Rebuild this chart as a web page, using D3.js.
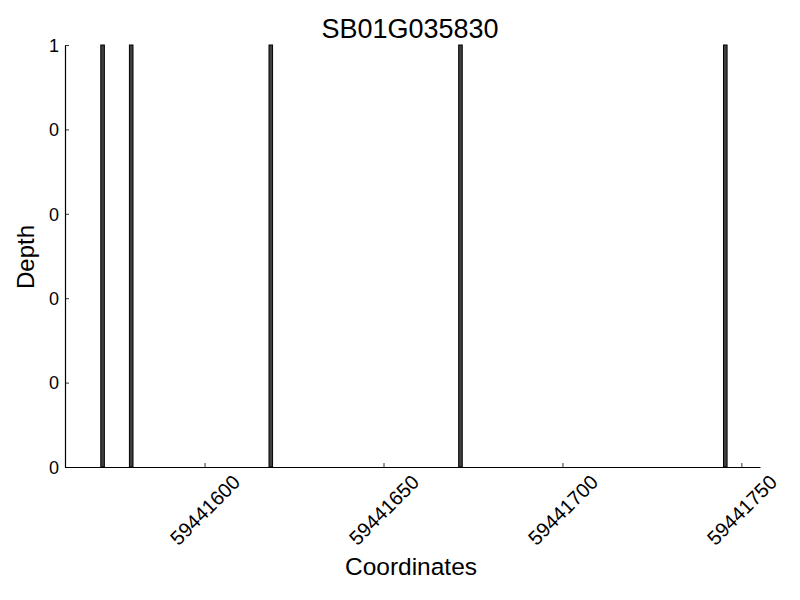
<!DOCTYPE html>
<html>
<head>
<meta charset="utf-8">
<script src="https://cdn.jsdelivr.net/npm/d3@7"></script>
<style>
  body { margin: 0; background: #fff; }
  text { font-family: "Liberation Sans", Arial, sans-serif; fill: #000; }
</style>
</head>
<body>
<svg id="chart" width="800" height="600"></svg>
<script>
const title = "SB01G035830";
const positions = [59441571, 59441579, 59441618, 59441671, 59441745];
const depths = [1, 1, 1, 1, 1];
const xTicks = [59441600, 59441650, 59441700, 59441750];
const yTicks = [0, 0.2, 0.4, 0.6, 0.8, 1];
const xDomain = [59441561, 59441755.2];
const yDomain = [0, 1];

const svg = d3.select("#chart");
const mLeft = 65, mRight = 760, mTop = 45, mBottom = 467;

const x = d3.scaleLinear().domain(xDomain).range([mLeft, mRight]);
const y = d3.scaleLinear().domain(yDomain).range([mBottom, mTop]);

// bars
svg.append("g").selectAll("rect")
  .data(positions.map((p, i) => ({p, d: depths[i]})))
  .join("rect")
  .attr("x", d => x(d.p))
  .attr("width", d => x(d.p + 1) - x(d.p))
  .attr("y", d => y(d.d))
  .attr("height", d => y(0) - y(d.d))
  .attr("fill", "#404040")
  .attr("stroke", "#000")
  .attr("stroke-width", 1);

// x axis
const xAxis = d3.axisBottom(x).tickValues(xTicks).tickSizeInner(-4).tickSizeOuter(0).tickFormat(d3.format("d"));
const gx = svg.append("g").attr("transform", `translate(0,${mBottom})`).call(xAxis);
gx.select(".domain").attr("stroke", "#000").attr("stroke-width", 1.2);
gx.selectAll(".tick line").attr("stroke", "#000").attr("stroke-width", 0.8);
gx.selectAll(".tick text")
  .attr("font-size", 20)
  .attr("font-family", "Liberation Sans, Arial, sans-serif")
  .attr("text-anchor", "middle")
  .attr("dominant-baseline", "central")
  .attr("y", 0).attr("dy", null)
  .attr("transform", "translate(0,43) rotate(-45)");

// y axis
const yAxis = d3.axisLeft(y).tickValues(yTicks).tickSizeInner(-4).tickSizeOuter(0)
  .tickFormat(d => String(Math.floor(d)));
const gy = svg.append("g").attr("transform", `translate(${mLeft},0)`).call(yAxis);
gy.select(".domain").attr("stroke", "#000").attr("stroke-width", 1.2);
gy.selectAll(".tick line").attr("stroke", "#000").attr("stroke-width", 0.8);
gy.selectAll(".tick text")
  .attr("font-size", 18)
  .attr("font-family", "Liberation Sans, Arial, sans-serif")
  .attr("x", -6)
  .attr("dy", "0.35em");

// title
svg.append("text").attr("x", 410).attr("y", 38).attr("text-anchor", "middle")
  .attr("font-size", 27).text(title);

// x label
svg.append("text").attr("x", 411).attr("y", 575).attr("text-anchor", "middle")
  .attr("font-size", 24.5).text("Coordinates");

// y label
svg.append("text").attr("transform", "translate(34,257) rotate(-90)")
  .attr("text-anchor", "middle").attr("font-size", 24).text("Depth");
</script>
</body>
</html>
